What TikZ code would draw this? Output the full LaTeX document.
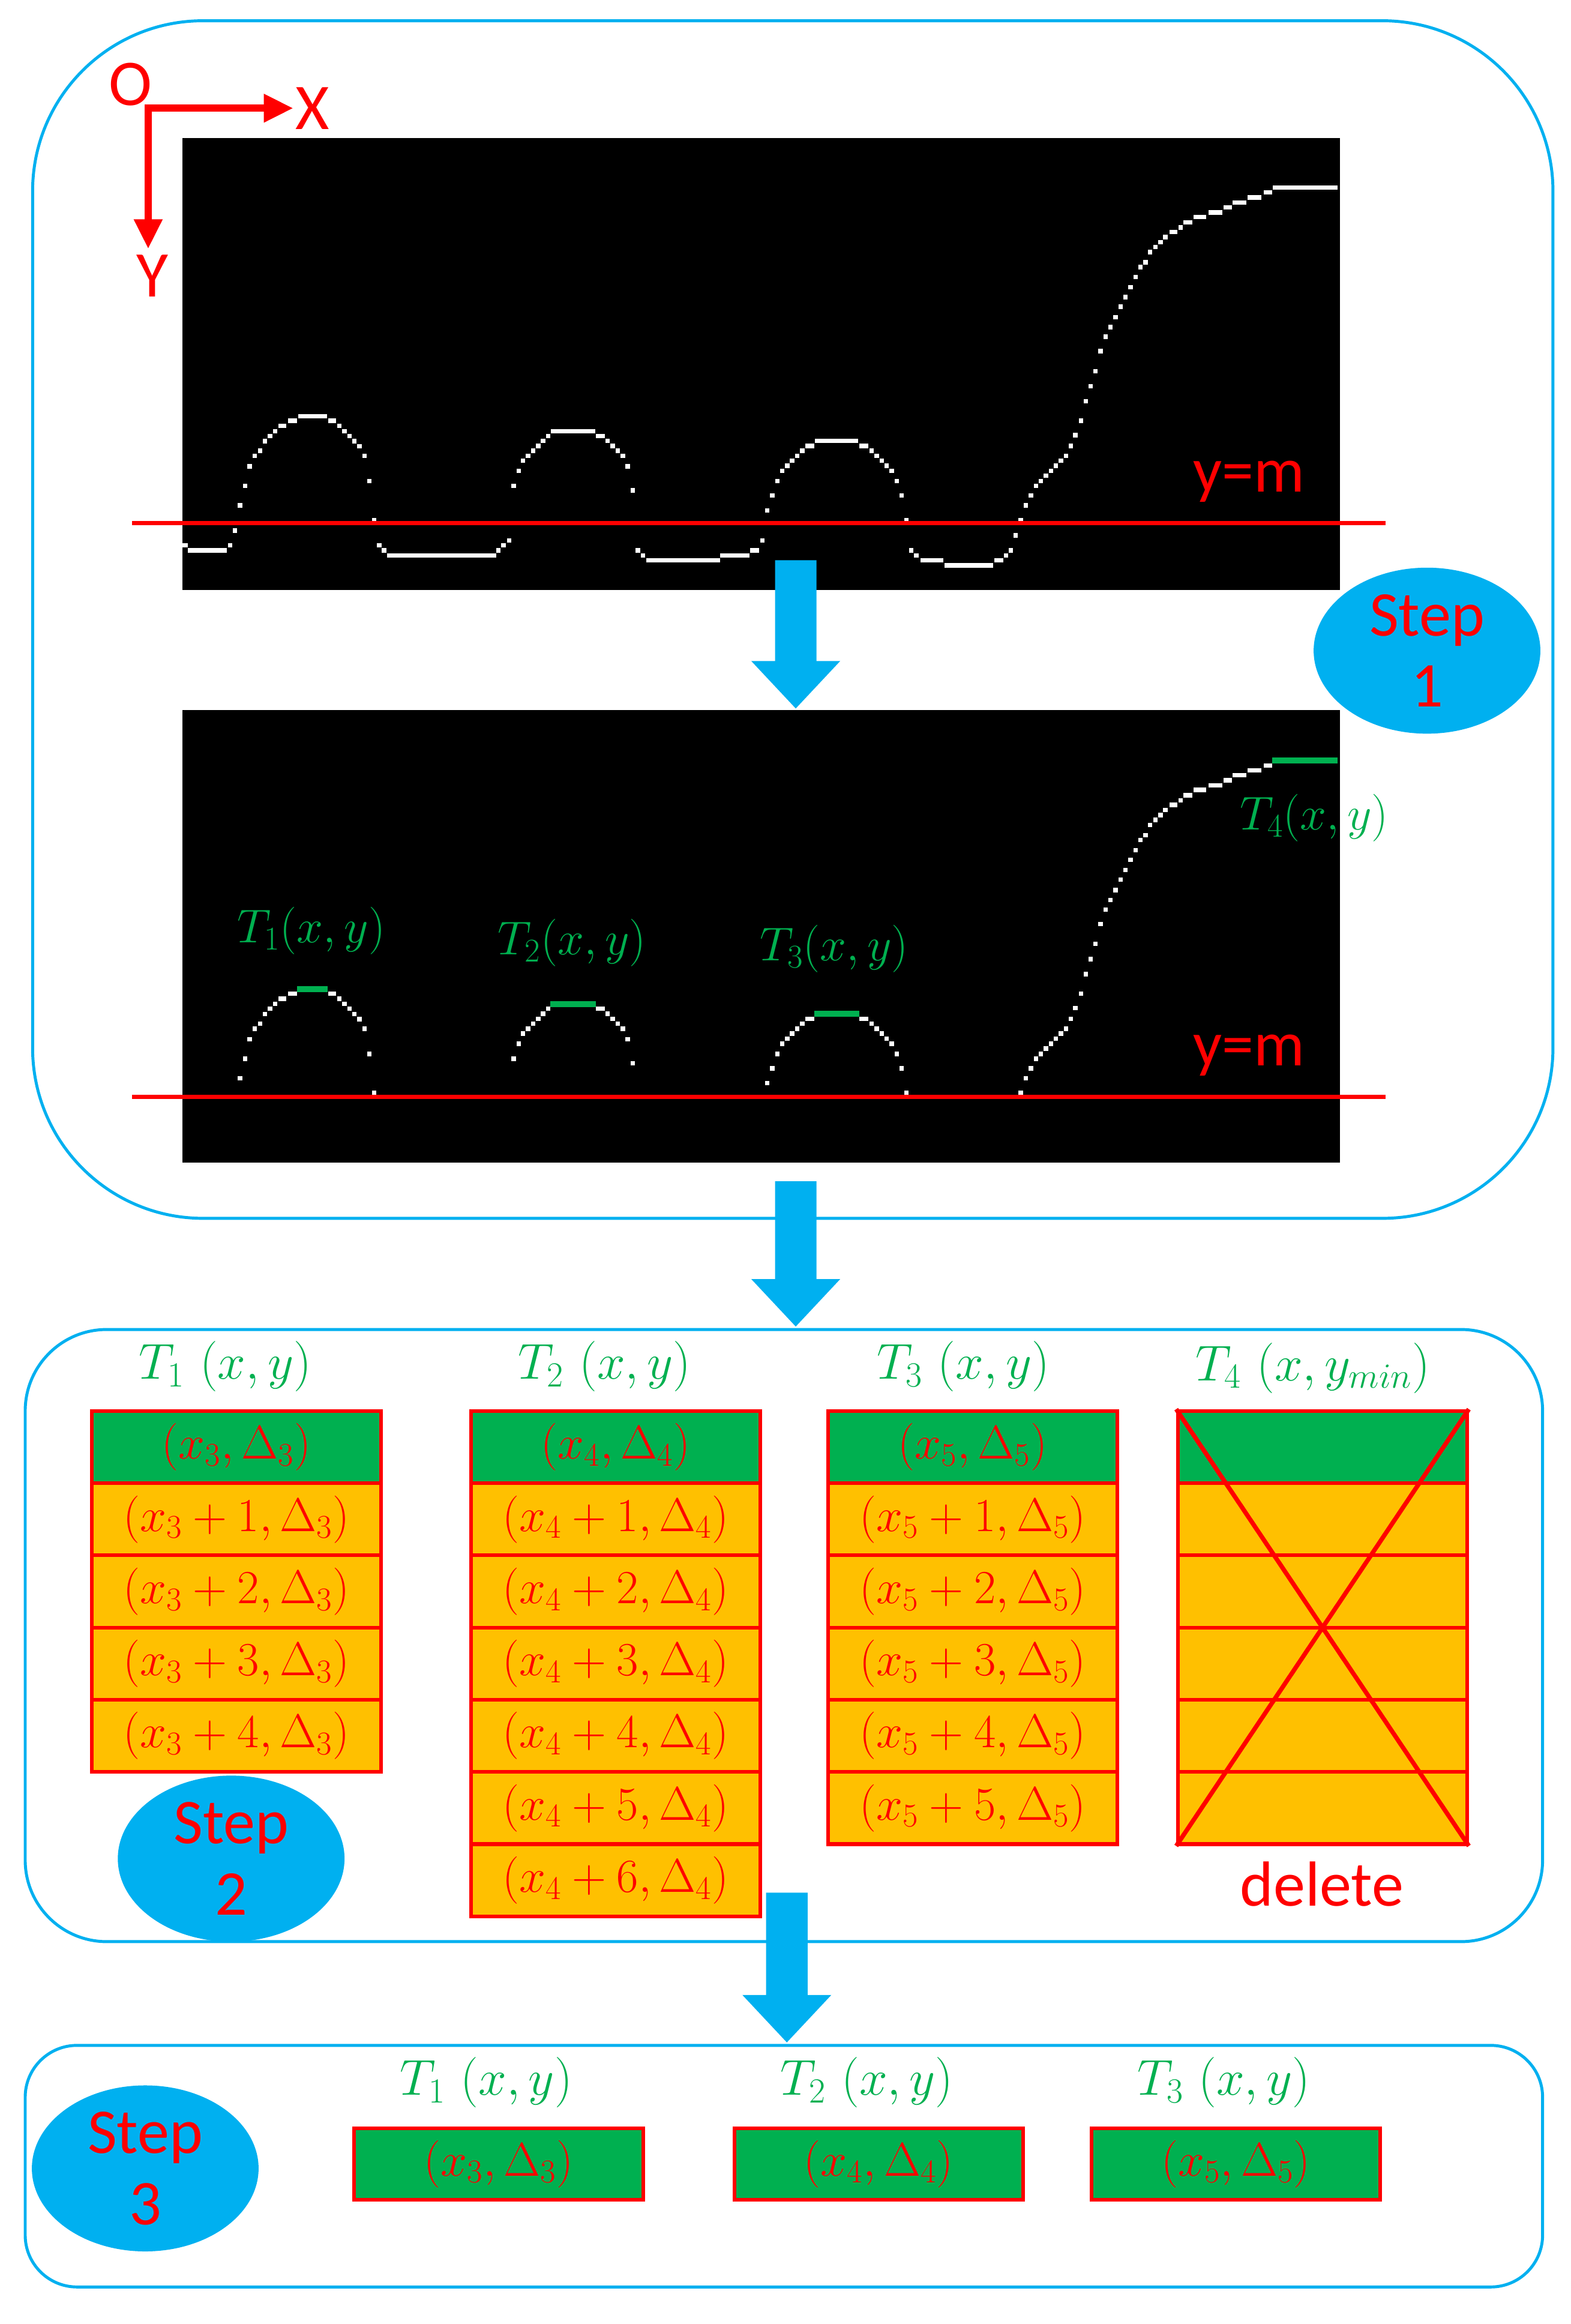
\RequirePackage{fix-cm}
\documentclass[tikz,border=0pt]{standalone}
\usepackage[no-math]{fontspec}
\newfontfamily\labfont{Carlito}
\usetikzlibrary{shapes.geometric,arrows.meta,calc}
\definecolor{sky}{HTML}{00B0F0}
\definecolor{grn}{HTML}{00B050}
\definecolor{org}{HTML}{FFC000}
\definecolor{rd}{HTML}{FF0000}
\newcommand\cellfs{\fontsize{32}{38}\selectfont}
\newcommand\hdrfs{\fontsize{34}{40}\selectfont}
\newcommand\labfs{\fontsize{32}{38}\selectfont}
\newcommand\sansfs{\labfont\fontsize{43}{48}\selectfont}
\newcommand\bluearrow[2]{%
  \fill[sky] ($(#1)+(-14,0)$) -- ($(#2)+(-14,-32)$) -- ($(#2)+(-30,-32)$) -- (#2)
    -- ($(#2)+(30,-32)$) -- ($(#2)+(14,-32)$) -- ($(#1)+(14,0)$) -- cycle;}
\newcommand\curvedots{%
  \foreach \a/\b in {155.3/367.9, 158.6/358.0, 162.0/341.0, 165.4/327.8, 168.5/314.6, 171.9/307.6, 175.5/304.1, 178.9/297.7, 182.3/294.1, 185.6/290.9,
    229.1/287.3, 232.4/290.9, 235.9/294.1, 239.2/297.7, 242.6/301.1, 246.0/307.6, 249.2/324.6, 252.5/351.0, 255.9/367.9, 259.2/371.3,
    336.4/371.3, 339.8/367.9, 343.6/364.6, 346.7/327.8, 350.1/317.7, 353.0/310.9, 356.4/307.6, 359.8/304.1, 363.2/300.9, 366.5/297.5, 369.9/294.1,
    410.0/297.5, 413.4/300.9, 416.9/304.1, 420.3/307.6, 423.6/314.6, 427.0/330.9, 430.4/371.3, 433.8/374.7,
    514.4/364.6, 517.8/344.3, 521.1/334.4, 524.5/324.6, 527.9/317.7, 531.3/314.3, 534.6/310.9, 538.0/307.6, 541.4/304.1,
    588.2/304.1, 591.6/307.6, 595.0/310.9, 598.3/314.3, 601.7/317.7, 605.1/324.6, 608.5/334.4, 611.6/351.0, 614.9/371.3, 618.3/374.7,
    678.8/374.7, 682.2/371.3, 685.5/361.2, 688.9/351.0, 692.3/341.0, 695.7/334.4, 699.1/327.8, 702.4/324.6, 705.8/321.0, 709.2/317.7, 712.5/314.3, 715.9/310.9, 719.3/307.6, 722.6/300.8,
    725.7/293.6, 729.6/283.8, 732.7/270.7, 736.1/260.6, 739.2/250.4, 742.7/236.9, 746.2/227.2, 749.3/220.7, 752.8/214.0, 756.2/207.0, 759.5/200.5, 762.9/193.7, 766.3/187.0, 769.6/180.2, 773.1/176.9, 776.1/170.1, 779.7/166.7, 783.1/163.4, 786.5/160.0, 796.7/153.5}
    {\fill[white] (\a-1.5,\b-1.5) rectangle (\a+1.5,\b+1.5);}%
  \foreach \a/\b/\c in {123/126.9/367.9, 126.9/153.2/371.3, 187.7/193.1/287.3, 194.4/200.5/283.8, 201.1/220.7/280.8, 221.4/226.8/283.8, 261.2/334.8/374.7,
    371.9/401.6/290.9, 402.3/408.3/294.1, 436.1/486.0/378.1, 486.0/505.6/374.7, 506.3/512.3/371.3,
    543.4/549.5/300.9, 550.1/579.1/297.5, 579.8/585.9/300.9, 621.0/636.5/378.1, 637.2/670.3/381.5, 671.0/677.0/378.1,
    789.3/794.7/156.6, 798.6/804.8/150.1, 805.6/814.1/146.5, 815.6/825.0/143.4, 825.7/831.2/140.0, 831.9/841.2/136.6, 842.0/851.3/133.2, 852.9/858.3/129.9, 859.1/902.5/126.5}
    {\fill[white] (\a,\c-1.5) rectangle (\b,\c+1.5);}%
}
\begin{document}
\begin{tikzpicture}[x=1pt,y=-1pt,
  panel/.style={draw=sky,line width=2pt},
  img/.style={fill=black,anchor=north west,inner sep=0pt,minimum width=781pt,minimum height=305pt},
  mline/.style={draw=rd,line width=3pt},
  axis/.style={draw=rd,line width=5pt,line cap=rect,-{Triangle[length=20pt,width=18pt]}},
  stepnode/.style={ellipse,fill=sky,minimum width=153pt,minimum height=112pt,inner sep=0pt,text=rd,font=\sansfs,align=center},
  redlab/.style={text=rd,font=\sansfs,inner sep=0pt},
  cell/.style={draw=rd,line width=2.5pt,fill=org,minimum width=195pt,minimum height=48.7pt,inner sep=0pt,text=rd,font=\cellfs},
  topcell/.style={cell,fill=grn},
  hdr/.style={text=grn,font=\hdrfs,inner sep=0pt},
  imglab/.style={text=grn,font=\labfs,inner sep=0pt},
  gbar/.style={fill=grn}
]
\useasboundingbox[fill=white] (0,0) rectangle (1060,1568);

% panels
\draw[panel,rounded corners=115pt] (22,14) rectangle (1048,822);
\draw[panel,rounded corners=55pt] (17,897) rectangle (1041,1310);
\draw[panel,rounded corners=35pt] (17,1380) rectangle (1041,1543);

% axes
\coordinate (org) at (100,73);
\coordinate (xend) at (198,73);
\coordinate (yend) at (100,168);
\draw[axis] (org) -- (xend);
\draw[axis] (org) -- (yend);
\node[redlab,font=\labfont\fontsize{44}{48}\selectfont] (olab) at (88,57) {O};
\node[redlab,font=\labfont\fontsize{44}{48}\selectfont] (xlab) at (211,73) {X};
\node[redlab,font=\labfont\fontsize{44}{48}\selectfont] (ylab) at (103,186) {Y};

% image 1
\node[img] (img1) at (123,93) {};
\curvedots
\draw[mline] (89,353) -- (935,353);
\node[redlab] (ym1) at (843,325) {y=m};

% image 2
\node[img] (img2) at (123,479) {};
\begin{scope}
  \clip (123,479) rectangle (904,739.5);
  \begin{scope}[shift={(0,386.5)}]
    \curvedots
  \end{scope}
\end{scope}
\fill[gbar] (200.5,665.2) rectangle (221.3,669.4);
\fill[gbar] (371.5,675.3) rectangle (402,679.5);
\fill[gbar] (549.5,681.9) rectangle (579.7,686.1);
\fill[gbar] (858.5,510.9) rectangle (902.5,515.1);
\draw[mline] (89,740) -- (935,740);
\node[redlab] (ym2) at (843,712) {y=m};
\node[imglab] (t1i) at (210,628) {$T_1(x,y)$};
\node[imglab] (t2i) at (386,636) {$T_2(x,y)$};
\node[imglab] (t3i) at (563,640) {$T_3(x,y)$};
\node[imglab] (t4i) at (887,552) {$T_4(x,y)$};

% step 1
\node[stepnode] (step1) at (963,439) {Step\\1};

% arrows
\coordinate (a1s) at (537,378);
\coordinate (a1e) at (537,478);
\bluearrow{a1s}{a1e}
\coordinate (a2s) at (537,797);
\coordinate (a2e) at (537,895);
\bluearrow{a2s}{a2e}
\coordinate (a3s) at (531,1277);
\coordinate (a3e) at (531,1378);
\bluearrow{a3s}{a3e}

% panel 2 headers
\node[hdr] (h1) at (152,922) {$T_1\ (x,y)$};
\node[hdr] (h2) at (408,922) {$T_2\ (x,y)$};
\node[hdr] (h3) at (650,922) {$T_3\ (x,y)$};
\node[hdr] (h4) at (886,923) {$T_4\ (x,y_{min})$};

% column 1
\node[topcell] (c10) at (159.5,976.35) {$(x_3,\Delta_3)$};
\foreach \k in {1,...,4}
  \node[cell] (c1\k) at (159.5,{952+48.7*(\k+0.5)}) {$(x_3+\k,\Delta_3)$};
% column 2
\node[topcell] (c20) at (415.5,976.35) {$(x_4,\Delta_4)$};
\foreach \k in {1,...,6}
  \node[cell] (c2\k) at (415.5,{952+48.7*(\k+0.5)}) {$(x_4+\k,\Delta_4)$};
% column 3
\node[topcell] (c30) at (656.5,976.35) {$(x_5,\Delta_5)$};
\foreach \k in {1,...,5}
  \node[cell] (c3\k) at (656.5,{952+48.7*(\k+0.5)}) {$(x_5+\k,\Delta_5)$};
% column 4
\node[topcell] (c40) at (892.5,976.35) {};
\foreach \k in {1,...,5}
  \node[cell] (c4\k) at (892.5,{952+48.7*(\k+0.5)}) {};
\draw[rd,line width=3pt] (c40.north west) -- (c45.south east);
\draw[rd,line width=3pt] (c40.north east) -- (c45.south west);
\node[redlab] (del) at (892,1271) {delete};

% step 2
\node[stepnode] (step2) at (156,1254) {Step\\2};

% panel 3
\node[stepnode] (step3) at (98,1463) {Step\\3};
\node[hdr] (g1) at (328,1405) {$T_1\ (x,y)$};
\node[hdr] (g2) at (585,1405) {$T_2\ (x,y)$};
\node[hdr] (g3) at (826,1405) {$T_3\ (x,y)$};
\node[topcell,minimum height=48pt] (r1) at (336.5,1460) {$(x_3,\Delta_3)$};
\node[topcell,minimum height=48pt] (r2) at (593,1460) {$(x_4,\Delta_4)$};
\node[topcell,minimum height=48pt] (r3) at (834,1460) {$(x_5,\Delta_5)$};
\end{tikzpicture}
\end{document}
